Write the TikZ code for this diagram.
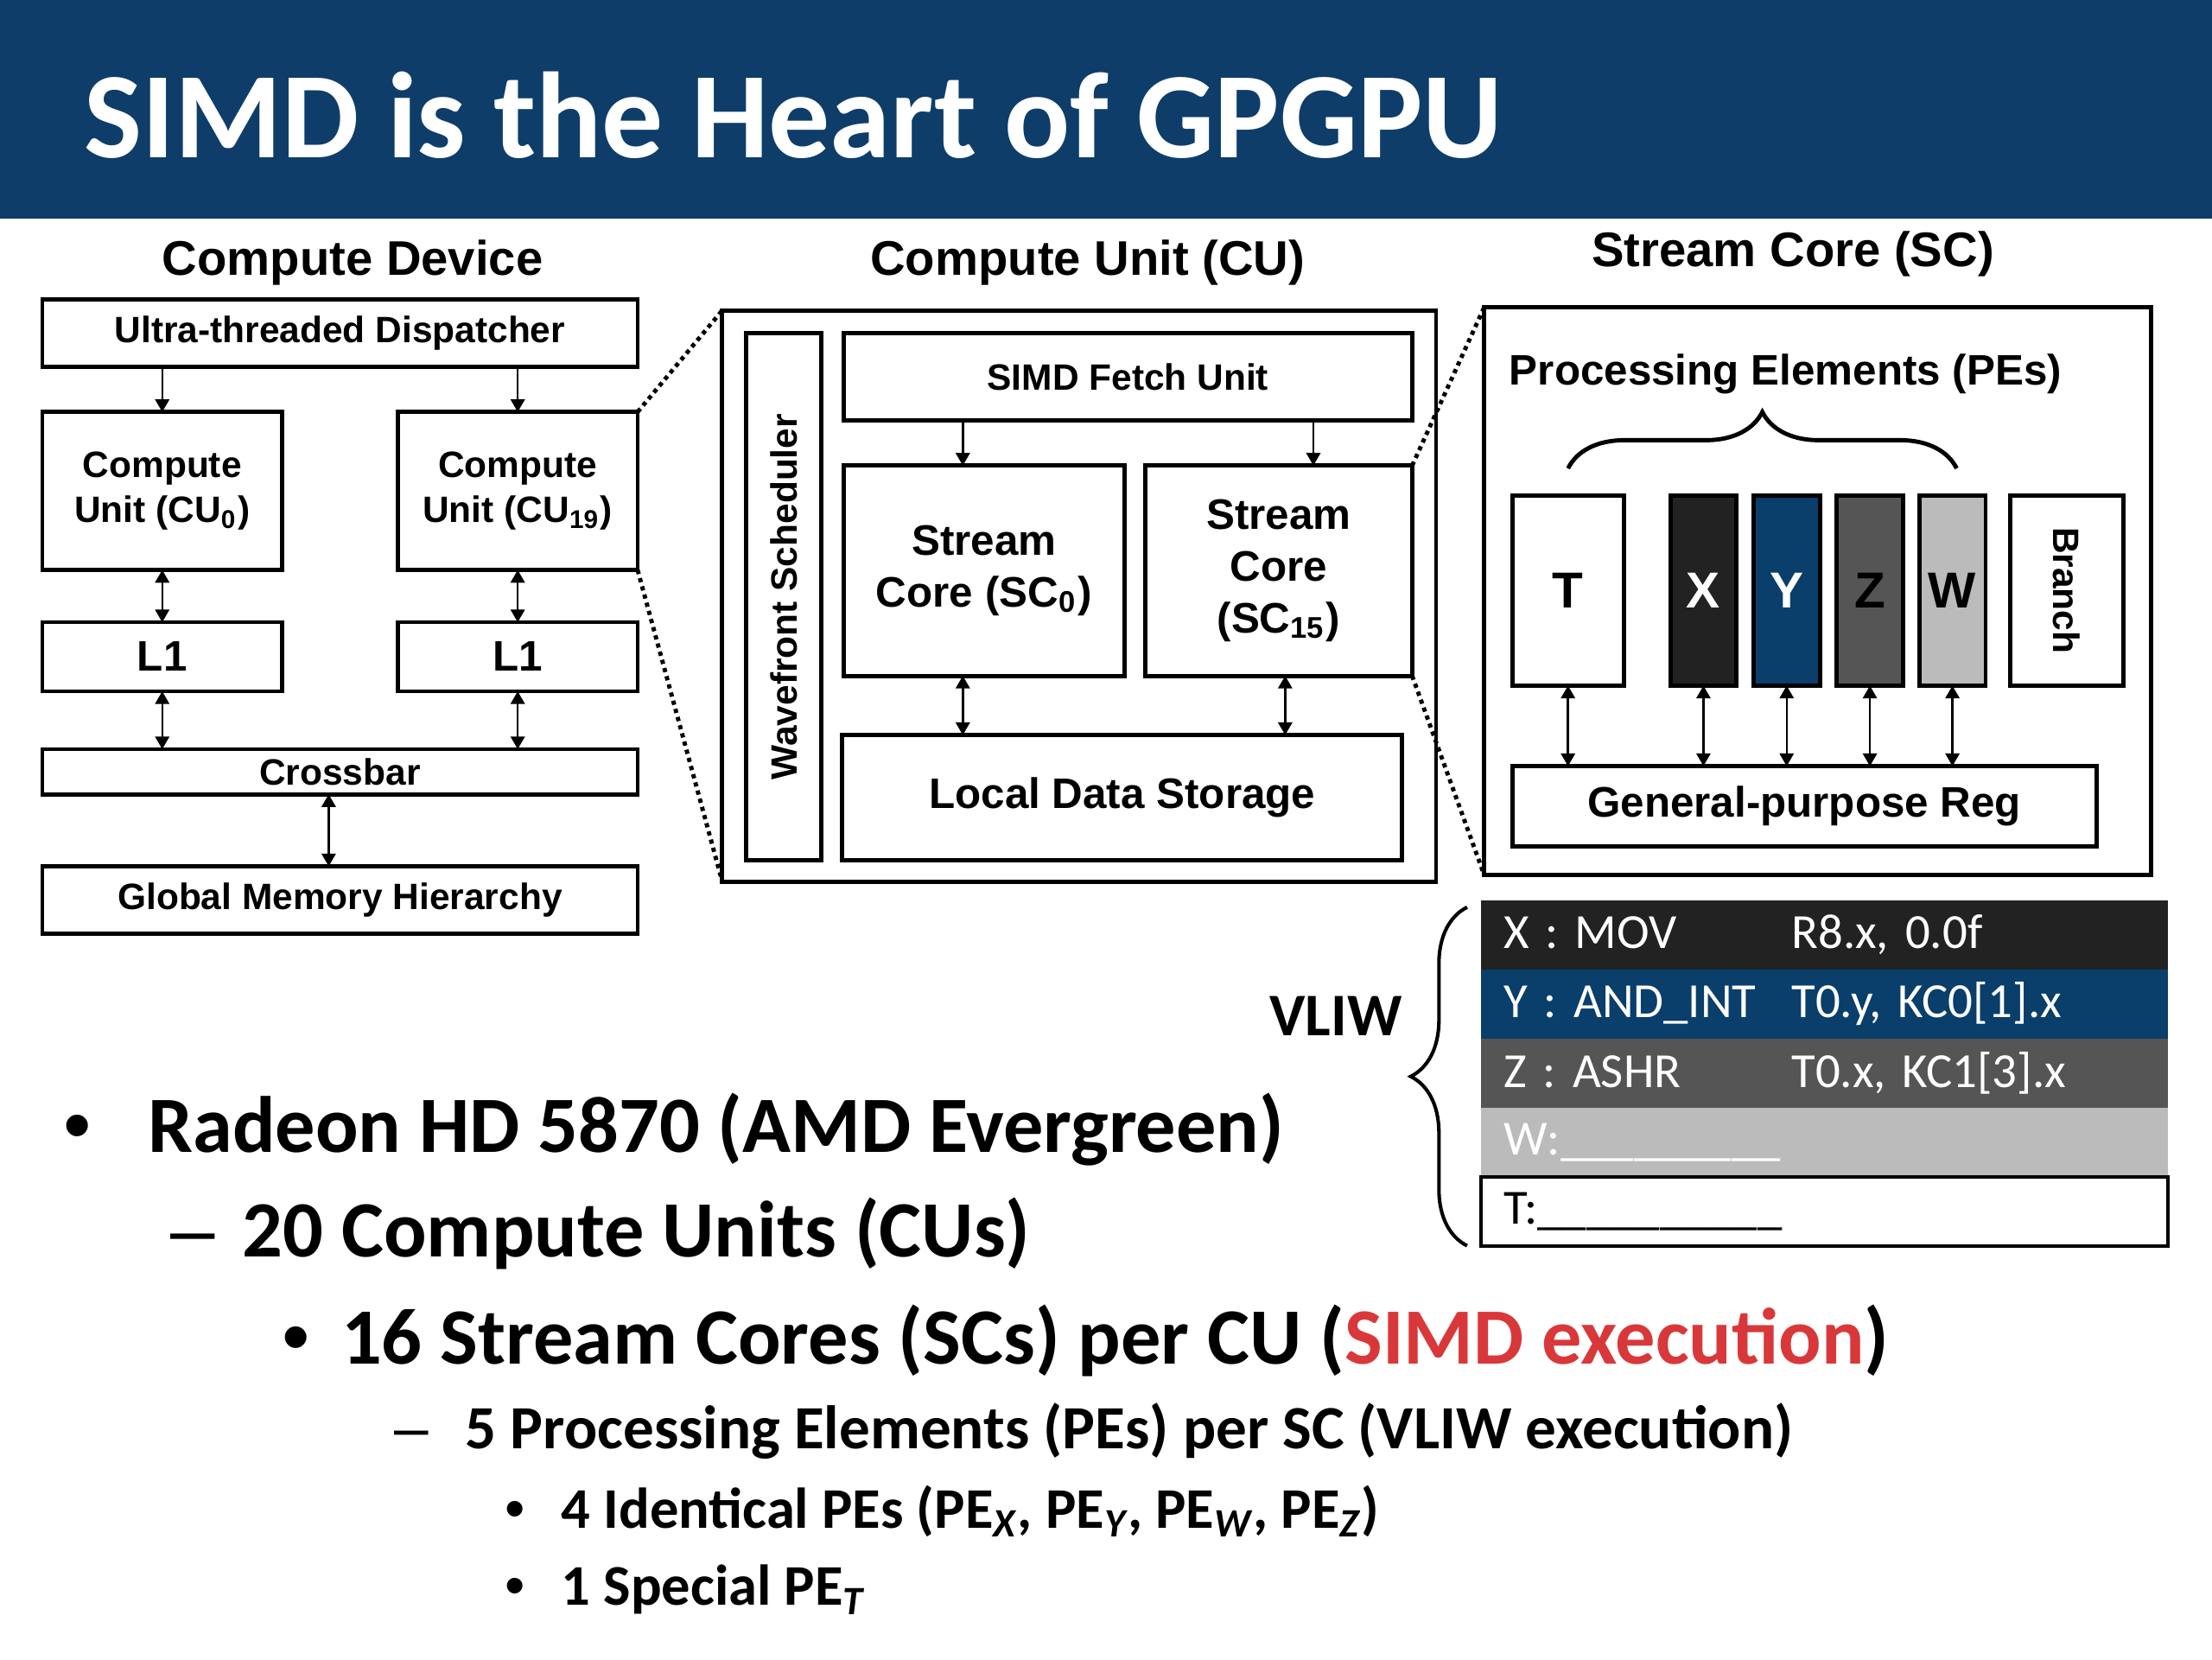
\documentclass[tikz,border=0pt]{standalone}
\usepackage{fontspec}
\setmainfont{Carlito}
\newfontfamily\arialfont{Liberation Sans}
\usepackage{tikz}
\usetikzlibrary{positioning, calc, arrows.meta, decorations.pathreplacing}

\definecolor{titleblue}{RGB}{14,61,106}
\definecolor{peX}{RGB}{34,34,34}
\definecolor{peY}{RGB}{10,62,107}
\definecolor{peZ}{RGB}{85,85,85}
\definecolor{peW}{RGB}{187,187,187}
\definecolor{simdred}{RGB}{217,56,58}

\begin{document}
\begin{tikzpicture}[
  x=0.1mm, y=-0.1mm,
  >={Triangle[length=0.9mm, width=1mm]},
  every node/.style={inner sep=0pt, outer sep=0pt},
  box/.style={rectangle, draw, line width=0.3mm, align=center,
              font=\arialfont\bfseries\fontsize{7.4}{9.1}\selectfont},
  bigbox/.style={box, font=\arialfont\bfseries\fontsize{8.6}{10.5}\selectfont},
  pebox/.style={box, minimum width=4.7mm, minimum height=13.5mm,
                font=\arialfont\bfseries\fontsize{10.2}{12}\selectfont},
  heading/.style={font=\arialfont\bfseries\fontsize{9.8}{12}\selectfont},
  arr/.style={->, line width=0.15mm},
  darr/.style={<->, line width=0.15mm},
  zoomline/.style={line width=0.3mm, dash pattern=on 0.3mm off 0.3mm},
  pebrace/.style={decorate, decoration={brace, amplitude=4mm}, line width=0.3mm},
  vliwrow/.style={rectangle, inner xsep=1.6mm, minimum height=4.9mm,
                  text width=45.5mm, align=left, text=white,
                  font=\fontsize{9.9}{11}\selectfont},
  lvlone/.style={anchor=base west, font=\bfseries\fontsize{16.1}{18}\selectfont},
  lvltwo/.style={anchor=base west, font=\bfseries\fontsize{12.4}{14}\selectfont},
  lvlthree/.style={anchor=base west, font=\bfseries\fontsize{11.6}{13}\selectfont},
  mark1/.style={anchor=base, font=\arialfont\fontsize{16.1}{18}\selectfont},
  mark2/.style={anchor=base, font=\arialfont\fontsize{12.4}{14}\selectfont},
  mark3/.style={anchor=base, font=\arialfont\fontsize{11.6}{13}\selectfont}
]

% --- Title bar ---
\fill[titleblue] (0,0) rectangle (1568,155);
\node[anchor=base west, text=white, font=\bfseries\fontsize{24.7}{30}\selectfont]
  (title) at (60,112) {SIMD is the Heart of GPGPU};
\useasboundingbox (0,0) rectangle (1568,1176);

% --- Headings ---
\node[heading] (cdhead) at (250,186) {Compute Device};
\node[heading] (cuhead) at (771,186) {Compute Unit (CU)};
\node[heading] (schead) at (1271,180) {Stream Core (SC)};

% --- Compute device ---
\node[box, minimum width=42.2mm, minimum height=4.8mm] (disp) at (241,236) {Ultra-threaded Dispatcher};
\node[box, minimum width=17mm, minimum height=11.2mm] (cu0) at (115,348) {Compute\\Unit (CU\textsubscript{0})};
\node[box, minimum width=17mm, minimum height=11.2mm] (cu19) at (367,348) {Compute\\Unit (CU\textsubscript{19})};
\node[bigbox, minimum width=17mm, minimum height=4.9mm] (l1a) at (115,465.5) {L1};
\node[bigbox, minimum width=17mm, minimum height=4.9mm] (l1b) at (367,465.5) {L1};
\node[box, minimum width=42.2mm, minimum height=3.2mm] (xbar) at (241,547) {Crossbar};
\node[box, minimum width=42.2mm, minimum height=4.8mm] (gmem) at (241,638) {Global Memory Hierarchy};

\draw[arr] (cu0.north |- disp.south) -- (cu0.north);
\draw[arr] (cu19.north |- disp.south) -- (cu19.north);
\draw[darr] (cu0.south) -- (l1a.north);
\draw[darr] (cu19.south) -- (l1b.north);
\draw[darr] (l1a.south) -- (l1a.south |- xbar.north);
\draw[darr] (l1b.south) -- (l1b.south |- xbar.north);
\draw[darr] ([xshift=-0.8mm]xbar.south) -- ([xshift=-0.8mm]gmem.north);

% --- Compute unit ---
\node[box, minimum width=50.6mm, minimum height=40.5mm] (cuo) at (765,422.5) {};
\node[box, rotate=90, minimum width=37.4mm, minimum height=5.3mm] (wfs) at (555.5,423) {Wavefront Scheduler};
\node[box, minimum width=40.3mm, minimum height=6.2mm] (fetch) at (799.5,267) {SIMD Fetch Unit};
\node[bigbox, minimum width=19.9mm, minimum height=14.9mm] (sc0) at (697.5,404.5) {Stream\\Core (SC\textsubscript{0})};
\node[bigbox, minimum width=18.9mm, minimum height=14.9mm] (sc15) at (906.5,404.5) {Stream\\Core\\(SC\textsubscript{15})};
\node[bigbox, minimum width=39.7mm, minimum height=8.9mm] (lds) at (795.5,565.5) {Local Data Storage};

\draw[arr] ([xshift=-1.5mm]sc0.north |- fetch.south) -- ([xshift=-1.5mm]sc0.north);
\draw[arr] ([xshift=2.45mm]sc15.north |- fetch.south) -- ([xshift=2.45mm]sc15.north);
\draw[darr] ([xshift=-1.5mm]sc0.south) -- ([xshift=-1.5mm]sc0.south |- lds.north);
\draw[darr] ([xshift=0.45mm]sc15.south) -- ([xshift=0.45mm]sc15.south |- lds.north);

\draw[zoomline] (cu19.north east) -- (cuo.north west);
\draw[zoomline] (cu19.south east) -- (cuo.south west);

% --- Stream core ---
\node[box, minimum width=47.3mm, minimum height=40.2mm] (sco) at (1288.5,419) {};
\node[anchor=west, font=\arialfont\bfseries\fontsize{8.6}{10.5}\selectfont] (pelabel) at (1070,265) {Processing Elements (PEs)};
\node[pebox, minimum width=7.9mm] (peT) at (1111.5,418.5) {T};
\node[pebox, fill=peX, text=white] (peX) at (1207.5,418.5) {X};
\node[pebox, fill=peY, text=white] (peY) at (1266.5,418.5) {Y};
\node[pebox, fill=peZ] (peZ) at (1325.5,418.5) {Z};
\node[pebox, fill=peW] (peW) at (1384,418.5) {W};
\node[box, rotate=-90, minimum width=13.5mm, minimum height=8mm] (branch) at (1465,418.5) {Branch};
\node[bigbox, minimum width=41.4mm, minimum height=5.7mm] (gpr) at (1279,571.5) {General-purpose Reg};

\draw[pebrace] ($(peT.north)+(0,-19)$) -- ($(peW.north)+(3,-19)$);
\foreach \pe in {peT, peX, peY, peZ, peW}
  \draw[darr] (\pe.south) -- (\pe.south |- gpr.north);

\draw[zoomline] (sc15.north east) -- (sco.north west);
\draw[zoomline] (sc15.south east) -- (sco.south west);

% --- VLIW bundle ---
\node[vliwrow, fill=peX, anchor=north west] (rowX) at (1050,638)
  {\makebox[20.4mm][l]{X : MOV}R8.x, 0.0f};
\node[vliwrow, fill=peY, below=0pt of rowX] (rowY)
  {\makebox[20.4mm][l]{Y : AND\_INT}T0.y, KC0[1].x};
\node[vliwrow, fill=peZ, below=0pt of rowY] (rowZ)
  {\makebox[20.4mm][l]{Z : ASHR}T0.x, KC1[3].x};
\node[vliwrow, fill=peW, below=0pt of rowZ] (rowW)
  {W:\_\_\_\_\_\_\_\_\_};
\node[vliwrow, fill=white, text=black, draw, line width=0.25mm, below=0pt of rowW] (rowT)
  {T:\_\_\_\_\_\_\_\_\_\_};

\node[font=\bfseries\fontsize{12.2}{14}\selectfont] (vliw) at (947,720) {VLIW};
\draw[pebrace, line width=0.25mm] ($(rowT.south west)+(-10,0)$) -- ($(rowX.north west)+(-10,5)$);

% --- Bullets ---
\node[mark1] (b1) at (55,817) {•};
\node[lvlone] (t1) at (105,817) {Radeon HD 5870 (AMD Evergreen)};
\node[mark1] (b2) at (137,891) {–};
\node[lvlone] (t2) at (172,891) {20 Compute Units (CUs)};
\node[mark1] (b3) at (210,967) {•};
\node[lvlone] (t3) at (242,967) {16 Stream Cores (SCs) per CU ({\color{simdred}SIMD execution})};
\node[mark2] (b4) at (292,1027) {–};
\node[lvltwo] (t4) at (330,1027) {5 Processing Elements (PEs) per SC (VLIW execution)};
\node[mark3] (b5) at (365,1083) {•};
\node[lvlthree] (t5) at (398,1083) {4 Identical PEs (PE\textsubscript{\itshape X}, PE\textsubscript{\itshape Y}, PE\textsubscript{\itshape W}, PE\textsubscript{\itshape Z})};
\node[mark3] (b6) at (365,1138) {•};
\node[lvlthree] (t6) at (398,1138) {1 Special PE\textsubscript{\itshape T}};

\end{tikzpicture}
\end{document}
